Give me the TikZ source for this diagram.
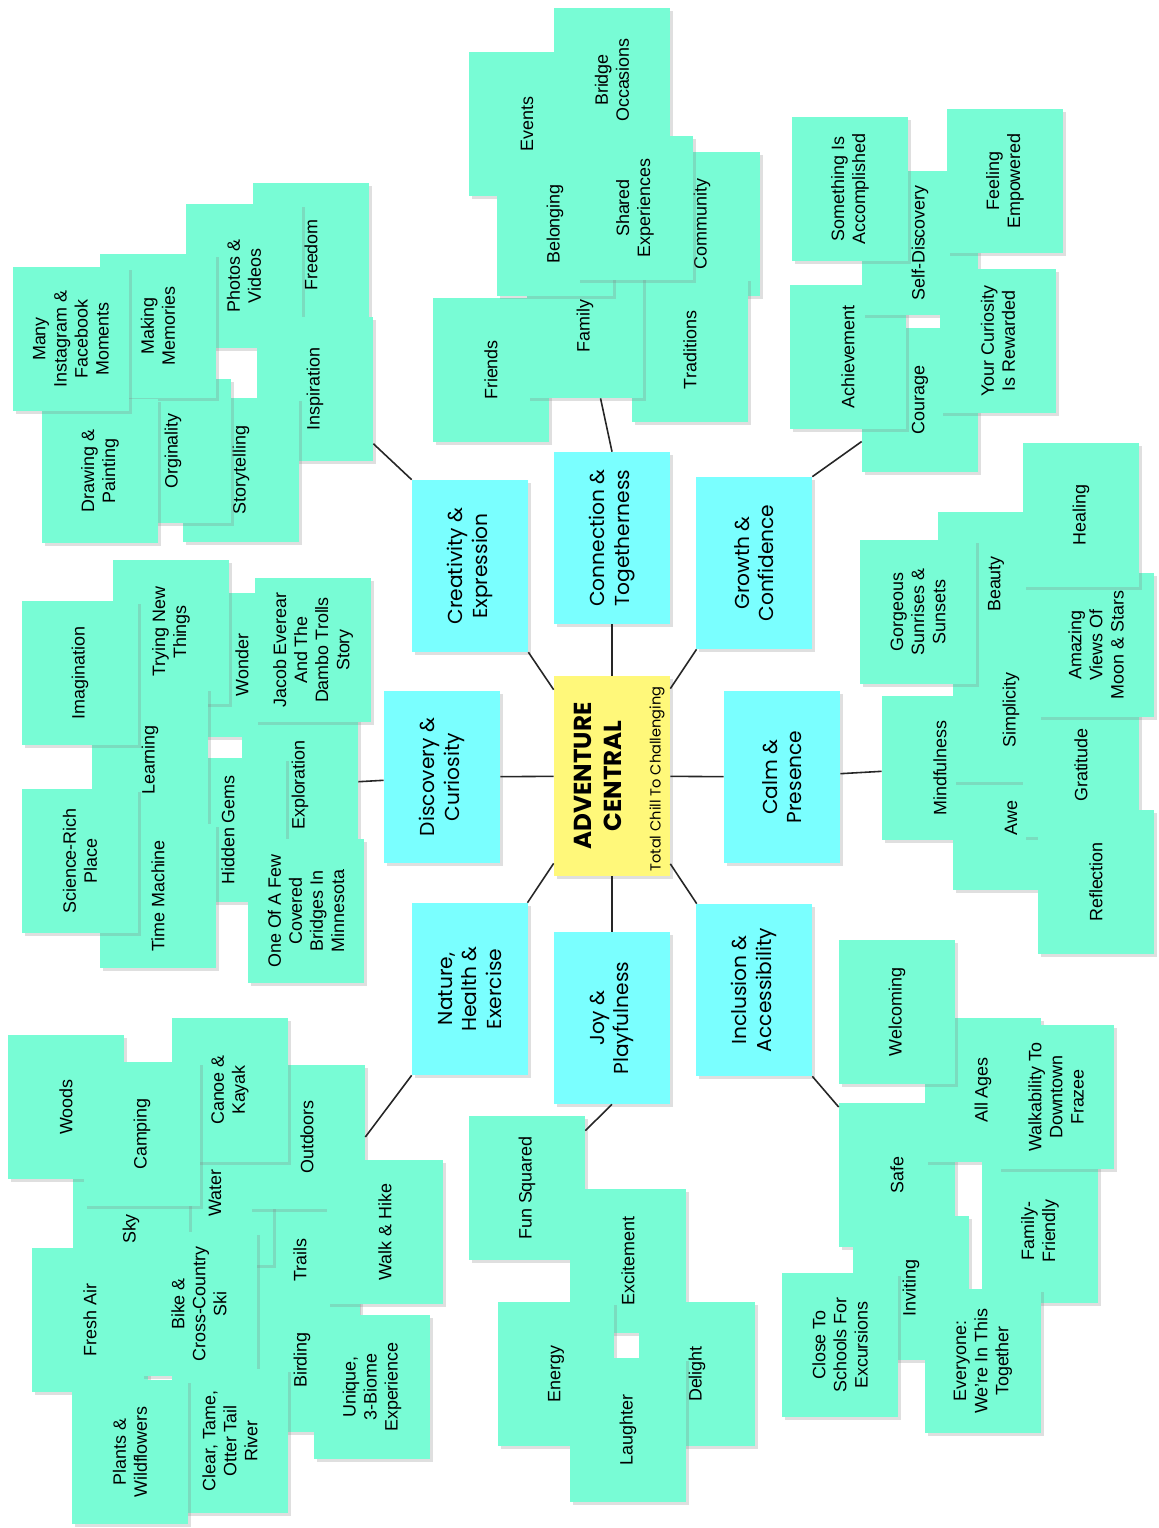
\documentclass[tikz,border=0pt]{standalone}
\usepackage{fontspec}
\setmainfont{Liberation Sans}
\newfontfamily\topicfont{Poppins}
\usetikzlibrary{shadows}

\definecolor{notegreen}{RGB}{120,252,213}
\definecolor{topiccyan}{RGB}{122,255,255}
\definecolor{hubyellow}{RGB}{255,248,122}

\tikzset{
	softshadow/.style={drop shadow={shadow xshift=1.5pt, shadow yshift=-1.5pt, opacity=0.25}},
	notebox/.style={rotate=90, fill=notegreen, minimum width=2.88cm, minimum height=2.32cm, inner sep=2pt, align=center, font=\fontsize{10.2}{12}\selectfont, softshadow},
	topicbox/.style={rotate=90, fill=topiccyan, minimum width=3.44cm, minimum height=2.32cm, inner sep=2pt, align=center, font=\topicfont\fontsize{11.5}{14}\selectfont, softshadow},
	hubbox/.style={rotate=90, fill=hubyellow, minimum width=4cm, minimum height=2.32cm, softshadow},
	link/.style={line width=0.9pt, black!85}
}

\begin{document}
\begin{tikzpicture}[x=0.02cm, y=-0.02cm]
	\fill[white] (0,0) rectangle (1159,1528);
	\useasboundingbox (0,0) rectangle (1159,1528);

	% creativity
	\node[notebox] (freedom) at (311,255) {Freedom};
	\node[notebox] (photos) at (244,276) {Photos \&\\Videos};
	\node[notebox] (inspiration) at (315,389) {Inspiration};
	\node[notebox] (storytelling) at (241,470) {Storytelling};
	\node[notebox] (originality) at (173,451) {Orginality};
	\node[notebox] (memories) at (158,326) {Making\\Memories};
	\node[notebox] (drawing) at (100,471) {Drawing \&\\Painting};
	\node[notebox] (instagram) at (71,339) {Many\\Instagram \&\\Facebook\\Moments};

	% connection
	\node[notebox] (events) at (527,124) {Events};
	\node[notebox] (bridge) at (612,80) {Bridge\\Occasions};
	\node[notebox] (community) at (702,224) {Community};
	\node[notebox] (friends) at (491,370) {Friends};
	\node[notebox] (traditions) at (690,350) {Traditions};
	\node[notebox] (family) at (585,326) {Family};
	\node[notebox] (belonging) at (555,224) {Belonging};
	\node[notebox] (shared) at (635,208) {Shared\\Experiences};

	% growth
	\node[notebox] (courage) at (920,400) {Courage};
	\node[notebox] (achievement) at (848,357) {Achievement};
	\node[notebox] (selfdisc) at (920,243) {Self-Discovery};
	\node[notebox] (accomplished) at (850,189) {Something Is\\Accomplished};
	\node[notebox] (empowered) at (1005,181) {Feeling\\Empowered};
	\node[notebox] (rewarded) at (998,341) {Your Curiosity\\Is Rewarded};

	% discovery
	\node[notebox] (wonder) at (242,665) {Wonder};
	\node[notebox] (exploration) at (300,785) {Exploration};
	\node[notebox] (trolls) at (313,650) {Jacob Everear\\And The\\Dambo Trolls\\Story};
	\node[notebox] (trying) at (171,632) {Trying New\\Things};
	\node[notebox] (gems) at (228,830) {Hidden Gems};
	\node[notebox] (learning) at (150,760) {Learning};
	\node[notebox] (imagination) at (80,673) {Imagination};
	\node[notebox] (timemachine) at (158,896) {Time Machine};
	\node[notebox] (science) at (80,861) {Science-Rich\\Place};
	\node[notebox] (bridges) at (306,911) {One Of A Few\\Covered\\Bridges In\\Minnesota};

	% calm
	\node[notebox] (beauty) at (996,584) {Beauty};
	\node[notebox] (mindfulness) at (940,768) {Mindfulness};
	\node[notebox] (awe) at (1011,818) {Awe};
	\node[notebox] (simplicity) at (1011,710) {Simplicity};
	\node[notebox] (sunsets) at (918,612) {Gorgeous\\Sunrises \&\\Sunsets};
	\node[notebox] (gratitude) at (1081,765) {Gratitude};
	\node[notebox] (stars) at (1096,645) {Amazing\\Views Of\\Moon \& Stars};
	\node[notebox] (healing) at (1081,515) {Healing};
	\node[notebox] (reflection) at (1096,882) {Reflection};

	% nature
	\node[notebox] (trails) at (300,1260) {Trails};
	\node[notebox] (water) at (215,1193) {Water};
	\node[notebox] (sky) at (131,1229) {Sky};
	\node[notebox] (woods) at (66,1107) {Woods};
	\node[notebox] (outdoors) at (307,1137) {Outdoors};
	\node[notebox] (canoe) at (230,1090) {Canoe \&\\Kayak};
	\node[notebox] (camping) at (142,1134) {Camping};
	\node[notebox] (freshair) at (90,1320) {Fresh Air};
	\node[notebox] (birding) at (302,1360) {Birding};
	\node[notebox] (bike) at (199,1304) {Bike \&\\Cross-Country\\Ski};
	\node[notebox] (hike) at (385,1232) {Walk \& Hike};
	\node[notebox] (biome) at (372,1387) {Unique,\\3-Biome\\Experience};
	\node[notebox] (river) at (230,1441) {Clear, Tame,\\Otter Tail\\River};
	\node[notebox] (plants) at (130,1452) {Plants \&\\Wildflowers};

	% joy
	\node[notebox] (funsquared) at (527,1188) {Fun Squared};
	\node[notebox] (excitement) at (628,1261) {Excitement};
	\node[notebox] (energy) at (556,1374) {Energy};
	\node[notebox] (delight) at (697,1374) {Delight};
	\node[notebox] (laughter) at (628,1430) {Laughter};

	% inclusion
	\node[notebox] (safe) at (897,1175) {Safe};
	\node[notebox] (allages) at (983,1090) {All Ages};
	\node[notebox] (welcoming) at (897,1012) {Welcoming};
	\node[notebox] (familyfriendly) at (1040,1231) {Family-\\Friendly};
	\node[notebox] (walkability) at (1056,1097) {Walkability To\\Downtown\\Frazee};
	\node[notebox] (inviting) at (911,1288) {Inviting};
	\node[notebox] (schools) at (840,1345) {Close To\\Schools For\\Excursions};
	\node[notebox] (together) at (983,1361) {Everyone:\\We're In This\\Together};

	% topics and hub
	\node[topicbox] (creativity) at (470,566) {Creativity \&\\Expression};
	\node[topicbox] (connection) at (612,538) {Connection \&\\Togetherness};
	\node[topicbox] (growth) at (754,563) {Growth \&\\Confidence};
	\node[topicbox] (discovery) at (442,777) {Discovery \&\\Curiosity};
	\node[topicbox] (calm) at (782,777) {Calm \&\\Presence};
	\node[topicbox] (nature) at (470,989) {Nature,\\Health \&\\Exercise};
	\node[topicbox] (joy) at (612,1018) {Joy \&\\Playfulness};
	\node[topicbox] (inclusion) at (754,990) {Inclusion \&\\Accessibility};

	\node[hubbox] (hub) at (612,776) {};
	\node[rotate=90, align=center, font=\topicfont\bfseries\fontsize{14}{17}\selectfont] (title) at (598,776) {ADVENTURE\\CENTRAL};
	\node[rotate=90, font=\topicfont\fontsize{8.3}{10}\selectfont] (tagline) at (657,779) {Total Chill To Challenging};

	\foreach \t in {creativity,connection,growth,discovery,calm,nature,joy,inclusion}
		\draw[link] (hub) -- (\t);

	\draw[link] (creativity.north east) -- (inspiration);
	\draw[link] (connection.east) -- (family);
	\draw[link] (growth.south east) -- (courage);
	\draw[link] (discovery) -- (exploration);
	\draw[link] (calm) -- (mindfulness);
	\draw[link] (nature.north west) -- (outdoors.south);
	\draw[link] (joy.west) -- (funsquared);
	\draw[link] (inclusion.south west) -- (safe);
\end{tikzpicture}
\end{document}
